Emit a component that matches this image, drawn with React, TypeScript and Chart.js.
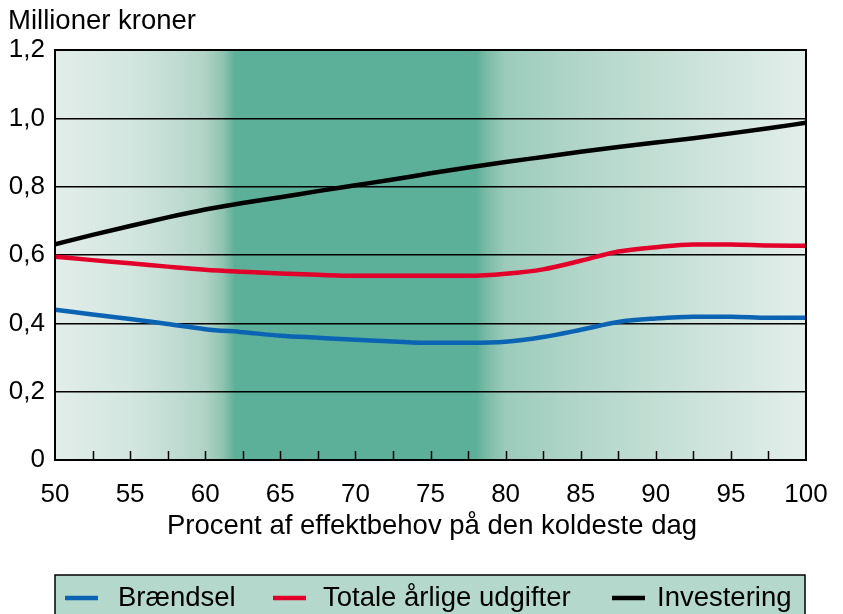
import React, { useEffect, useRef } from "react";
import { Chart, registerables } from "chart.js";

Chart.register(...registerables);

const xValues = [50, 52.5, 55, 57.5, 60, 62.5, 65, 67.5, 70, 72.5, 75, 77.5, 80, 82.5, 85, 87.5, 90, 92.5, 95, 97.5, 100];
const braendsel = [0.44, 0.426, 0.413, 0.398, 0.383, 0.374, 0.364, 0.358, 0.352, 0.347, 0.343, 0.343, 0.346, 0.36, 0.381, 0.404, 0.414, 0.419, 0.419, 0.416, 0.416];
const totale = [0.595, 0.585, 0.576, 0.566, 0.557, 0.551, 0.546, 0.542, 0.539, 0.539, 0.539, 0.539, 0.545, 0.558, 0.583, 0.61, 0.623, 0.631, 0.631, 0.628, 0.627];
const investering = [0.631, 0.659, 0.685, 0.71, 0.733, 0.752, 0.769, 0.787, 0.804, 0.821, 0.839, 0.856, 0.872, 0.887, 0.902, 0.916, 0.929, 0.942, 0.956, 0.971, 0.987];
const seriesLabels = ["Brændsel", "Totale årlige udgifter", "Investering"];
const seriesColors = ["#0b64b3", "#e2002b", "#000000"];
const xTitle = "Procent af effektbehov på den koldeste dag";
const yTitle = "Millioner kroner";

const FONT = "'Liberation Sans', Arial, Helvetica, sans-serif";

const decorPlugin = {
  id: "decor",
  beforeDraw(chart: any) {
    const { ctx, chartArea: a, scales } = chart;
    const xs = scales.x;
    const stops: [number, string][] = [
      [50, "#e2ede9"], [55, "#d3e6df"], [58, "#c1dcd2"], [60, "#b0d3c6"], [61.2, "#8ec3b0"],
      [62, "#5caf98"], [78, "#5caf98"], [78.8, "#7dbca7"], [80, "#9ccbbb"], [85, "#b2d6c9"],
      [90, "#c3ded4"], [95, "#d3e6df"], [100, "#e3eeea"],
    ];
    const g = ctx.createLinearGradient(a.left, 0, a.right, 0);
    const w = a.right - a.left;
    for (const [v, c] of stops) {
      const p = (xs.getPixelForValue(v) - a.left) / w;
      g.addColorStop(Math.min(1, Math.max(0, p)), c);
    }
    ctx.save();
    ctx.fillStyle = g;
    ctx.fillRect(a.left, a.top, w, a.bottom - a.top);
    ctx.restore();
  },
  afterDraw(chart: any) {
    const { ctx, chartArea: a, scales } = chart;
    const xs = scales.x;
    ctx.save();
    ctx.strokeStyle = "#000";
    ctx.lineWidth = 1.5;
    for (const t of xs.ticks) {
      const v = t.value;
      if (v <= 50 || v >= 100) continue;
      const px = Math.round(xs.getPixelForValue(v)) + 0.5;
      ctx.beginPath();
      ctx.moveTo(px, a.bottom);
      ctx.lineTo(px, a.bottom - 9);
      ctx.stroke();
    }
    ctx.lineWidth = 2;
    ctx.strokeRect(a.left, a.top, a.right - a.left, a.bottom - a.top);
    ctx.fillStyle = "#000";
    ctx.font = `27.5px ${FONT}`;
    ctx.textBaseline = "alphabetic";
    ctx.textAlign = "left";
    ctx.fillText(yTitle, 8, 29);
    ctx.textAlign = "center";
    ctx.fillText(xTitle, 432, 534);
    const lx = 55, ly = 575, lw = 750, lh = 50;
    ctx.fillStyle = "#b5d8cc";
    ctx.fillRect(lx, ly, lw, lh);
    ctx.strokeStyle = "#000";
    ctx.lineWidth = 1.5;
    ctx.strokeRect(lx, ly, lw, lh);
    const starts = [65, 273, 612];
    const textOff = [53, 50, 45];
    const cy = 598;
    chart.data.datasets.forEach((ds: any, i: number) => {
      ctx.strokeStyle = ds.borderColor;
      ctx.lineWidth = 4.5;
      ctx.beginPath();
      ctx.moveTo(starts[i], cy);
      ctx.lineTo(starts[i] + 33, cy);
      ctx.stroke();
      ctx.fillStyle = "#000";
      ctx.textAlign = "left";
      ctx.textBaseline = "middle";
      ctx.font = `27.5px ${FONT}`;
      ctx.fillText(ds.label, starts[i] + textOff[i], cy);
    });
    ctx.restore();
  },
};

export default function App() {
  const ref = useRef<HTMLCanvasElement>(null);
  useEffect(() => {
    if (!ref.current) return;
    const series = [braendsel, totale, investering];
    const chart = new Chart(ref.current, {
      type: "line",
      data: {
        datasets: series.map((s, i) => ({
          label: seriesLabels[i],
          data: xValues.map((x, j) => ({ x, y: s[j] })),
          borderColor: seriesColors[i],
          backgroundColor: seriesColors[i],
          borderWidth: 4.5,
          pointRadius: 0,
          cubicInterpolationMode: "monotone" as const,
          fill: false,
        })),
      },
      options: {
        animation: false,
        responsive: false,
        devicePixelRatio: 1,
        layout: { padding: { top: 50, right: 37, left: 0, bottom: 0 } },
        plugins: { legend: { display: false }, tooltip: { enabled: false } },
        scales: {
          x: {
            type: "linear",
            min: 50,
            max: 100,
            afterFit: (s: any) => { s.height = 154; },
            ticks: {
              stepSize: 2.5,
              autoSkip: false,
              maxRotation: 0,
              padding: 11,
              color: "#000",
              font: { family: FONT, size: 26 },
              callback: (v: any) => (Number(v) % 5 === 0 ? String(v) : ""),
            },
            grid: { display: false },
            border: { display: false },
          },
          y: {
            min: 0,
            max: 1.2,
            afterFit: (s: any) => { s.width = 55; },
            ticks: {
              stepSize: 0.2,
              padding: 10,
              color: "#000",
              font: { family: FONT, size: 26 },
              callback: (v: any) => (Number(v) === 0 ? "0" : Number(v).toFixed(1).replace(".", ",")),
            },
            grid: { color: "#000", lineWidth: 1.5, drawTicks: false },
            border: { display: false },
          },
        },
      },
      plugins: [decorPlugin],
    });
    return () => chart.destroy();
  }, []);
  return (
    <div style={{ position: "absolute", left: 0, top: 0, width: 843, height: 614, background: "#fff" }}>
      <canvas ref={ref} width={843} height={614} style={{ width: 843, height: 614 }} />
    </div>
  );
}
